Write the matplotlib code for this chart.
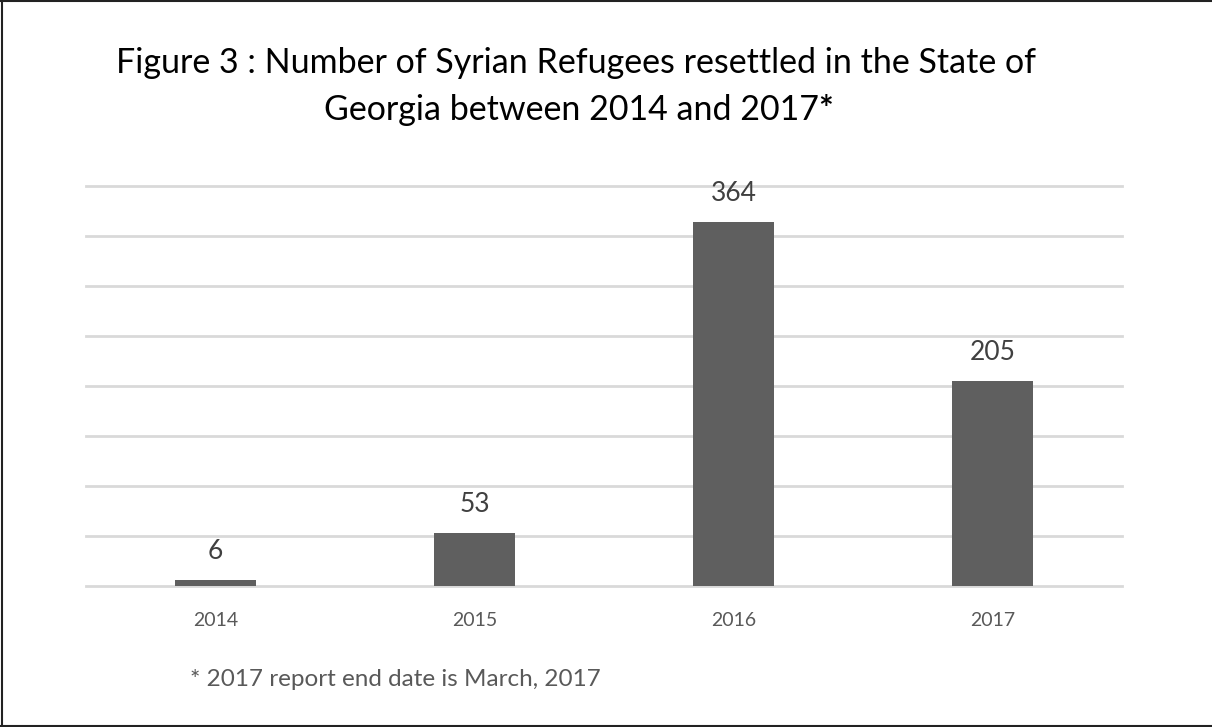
import matplotlib.pyplot as plt
from matplotlib.lines import Line2D

years = ['2014', '2015', '2016', '2017']
refugees = [6, 53, 364, 205]
footnote = '* 2017 report end date is March, 2017'
title_1 = 'Figure 3 : Number of Syrian Refugees resettled in the State of'
title_2 = 'Georgia between 2014 and 2017'

plt.rcParams['font.family'] = ['Lato', 'DejaVu Sans']

fig = plt.figure(figsize=(12.12, 7.27), dpi=100)
ax = fig.add_axes([86 / 1212, 1 - 586 / 727, (1122 - 86) / 1212, 400 / 727])

x = range(len(years))
bars = ax.bar(x, refugees, width=0.313, color='#5f5f5f', zorder=3)
for xi, v in zip(x, refugees):
    ax.text(xi, v + 16, str(v), ha='center', va='bottom', fontsize=19, color='#404040')

ax.set_xlim(-0.5, 3.5)
ax.set_ylim(0, 400)
ax.set_yticks(range(0, 401, 50))
ax.yaxis.grid(True, color='#d9d9d9', linewidth=2)
for gl in ax.get_ygridlines():
    gl.set_clip_on(False)
ax.set_yticklabels([])
ax.tick_params(axis='y', length=0)
ax.set_xticks(list(x))
ax.set_xticklabels(years, fontsize=14, color='#595959')
ax.tick_params(axis='x', length=0, pad=19)
for s in ax.spines.values():
    s.set_visible(False)

t1 = fig.text(576 / 1212, 1 - 73 / 727, title_1, ha='center', va='baseline', fontsize=24.5, color='black')
t2 = fig.text(571 / 1212, 1 - 120 / 727, title_2, ha='center', va='baseline', fontsize=24.5, color='black')
ax.annotate('*', xy=(1, 0), xycoords=t2, ha='left', va='bottom', fontsize=25, fontweight='bold', color='black')

fig.text(190 / 1212, 1 - 686 / 727, footnote, ha='left', va='baseline', fontsize=17.5, color='#595959')

# frame around the picture (left, top, bottom)
fig.add_artist(Line2D([2 / 1212, 2 / 1212], [0, 1], transform=fig.transFigure, color='#222222', lw=1.5))
fig.add_artist(Line2D([0, 1], [1 - 1 / 727, 1 - 1 / 727], transform=fig.transFigure, color='#222222', lw=1.5))
fig.add_artist(Line2D([0, 1], [1 - 725.5 / 727, 1 - 725.5 / 727], transform=fig.transFigure, color='#222222', lw=1.5))

fig.savefig('out.png', dpi=100, facecolor='white')
